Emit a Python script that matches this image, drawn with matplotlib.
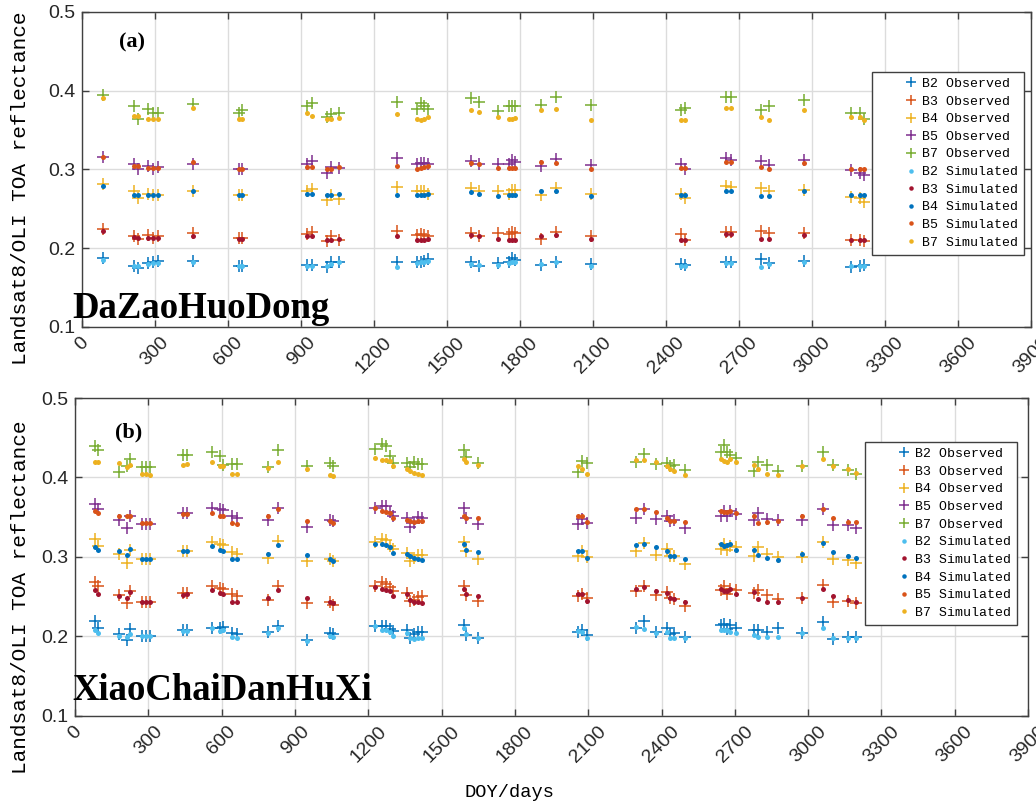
import matplotlib
matplotlib.use('Agg')
import matplotlib.pyplot as plt
from matplotlib.legend_handler import HandlerLine2D

# (a) DaZaoHuoDong
a_doy = [87, 213, 230, 270, 291, 311, 454, 647, 659, 925, 945, 1007, 1023, 1056, 1294, 1376, 1392, 1404, 1421,
         1597, 1633, 1711, 1756, 1768, 1780, 1887, 1948, 2092, 2460, 2476, 2648, 2665, 2792, 2825, 2968, 3160, 3196, 3213]
a_b2_obs = [0.187, 0.178, 0.175, 0.181, 0.182, 0.184, 0.184, 0.178, 0.178, 0.179, 0.179, 0.176, 0.183, 0.183, 0.183, 0.183, 0.183, 0.184, 0.186,
            0.182, 0.178, 0.181, 0.183, 0.187, 0.185, 0.179, 0.182, 0.180, 0.180, 0.179, 0.183, 0.183, 0.186, 0.181, 0.184, 0.176, 0.178, 0.179]
a_b3_obs = [0.224, 0.216, 0.212, 0.217, 0.213, 0.216, 0.219, 0.213, 0.213, 0.218, 0.220, 0.209, 0.215, 0.211, 0.222, 0.217, 0.218, 0.217, 0.215,
            0.219, 0.216, 0.219, 0.218, 0.220, 0.219, 0.212, 0.220, 0.216, 0.218, 0.211, 0.221, 0.221, 0.222, 0.219, 0.219, 0.211, 0.211, 0.209]
a_b4_obs = [0.281, 0.272, 0.264, 0.269, 0.268, 0.268, 0.272, 0.267, 0.267, 0.273, 0.275, 0.261, 0.267, 0.263, 0.278, 0.273, 0.272, 0.272, 0.269,
            0.277, 0.273, 0.272, 0.269, 0.274, 0.274, 0.267, 0.277, 0.269, 0.269, 0.264, 0.279, 0.278, 0.276, 0.272, 0.274, 0.265, 0.264, 0.259]
a_b5_obs = [0.316, 0.307, 0.301, 0.304, 0.300, 0.303, 0.307, 0.301, 0.301, 0.307, 0.311, 0.296, 0.303, 0.302, 0.314, 0.307, 0.308, 0.308, 0.307,
            0.311, 0.307, 0.307, 0.307, 0.312, 0.310, 0.304, 0.313, 0.305, 0.307, 0.301, 0.314, 0.312, 0.311, 0.306, 0.312, 0.299, 0.296, 0.293]
a_b7_obs = [0.395, 0.380, 0.364, 0.377, 0.371, 0.371, 0.383, 0.371, 0.376, 0.381, 0.384, 0.367, 0.370, 0.371, 0.385, 0.377, 0.384, 0.381, 0.377,
            0.391, 0.385, 0.374, 0.380, 0.381, 0.381, 0.382, 0.392, 0.382, 0.375, 0.378, 0.392, 0.392, 0.375, 0.381, 0.388, 0.371, 0.371, 0.364]
a_b2_sim = [0.185, 0.178, 0.177, 0.180, 0.181, 0.181, 0.182, 0.177, 0.177, 0.178, 0.178, 0.177, 0.180, 0.182, 0.176, 0.181, 0.182, 0.182, 0.184,
            0.180, 0.179, 0.179, 0.181, 0.182, 0.182, 0.180, 0.182, 0.178, 0.178, 0.178, 0.181, 0.181, 0.176, 0.180, 0.182, 0.177, 0.177, 0.177]
a_b3_sim = [0.222, 0.214, 0.213, 0.213, 0.213, 0.213, 0.216, 0.212, 0.212, 0.215, 0.215, 0.211, 0.211, 0.212, 0.215, 0.211, 0.211, 0.211, 0.212,
            0.217, 0.216, 0.212, 0.211, 0.211, 0.211, 0.216, 0.217, 0.212, 0.211, 0.211, 0.218, 0.218, 0.212, 0.212, 0.217, 0.211, 0.211, 0.211]
a_b4_sim = [0.279, 0.267, 0.267, 0.267, 0.267, 0.267, 0.272, 0.267, 0.267, 0.269, 0.269, 0.267, 0.267, 0.269, 0.268, 0.267, 0.267, 0.267, 0.269,
            0.271, 0.269, 0.266, 0.267, 0.267, 0.267, 0.272, 0.272, 0.266, 0.267, 0.267, 0.272, 0.272, 0.266, 0.266, 0.272, 0.267, 0.267, 0.267]
a_b5_sim = [0.316, 0.304, 0.304, 0.302, 0.302, 0.302, 0.309, 0.301, 0.301, 0.303, 0.303, 0.301, 0.301, 0.303, 0.304, 0.301, 0.302, 0.303, 0.304,
            0.308, 0.307, 0.302, 0.302, 0.302, 0.302, 0.309, 0.308, 0.301, 0.302, 0.302, 0.310, 0.309, 0.303, 0.301, 0.308, 0.301, 0.301, 0.301]
a_b7_sim = [0.391, 0.368, 0.368, 0.364, 0.364, 0.364, 0.378, 0.364, 0.364, 0.371, 0.368, 0.364, 0.364, 0.365, 0.370, 0.364, 0.363, 0.364, 0.366,
            0.376, 0.373, 0.366, 0.364, 0.364, 0.365, 0.376, 0.377, 0.363, 0.363, 0.363, 0.378, 0.378, 0.366, 0.363, 0.375, 0.366, 0.366, 0.363]

# (b) XiaoChaiDanHuXi
b_doy = [80, 95, 181, 212, 225, 274, 291, 307, 442, 457, 560, 593, 606, 643, 663, 790, 831, 949, 1044, 1056,
         1228, 1257, 1273, 1289, 1302, 1359, 1371, 1387, 1404, 1420, 1592, 1600, 1650, 2059, 2075, 2096, 2296, 2329,
         2378, 2424, 2435, 2451, 2496, 2644, 2656, 2668, 2681, 2705, 2779, 2795, 2832, 2877, 2975, 3061, 3102, 3163, 3196]
b_b2_obs = [0.220, 0.211, 0.203, 0.196, 0.209, 0.200, 0.200, 0.200, 0.208, 0.208, 0.211, 0.211, 0.212, 0.204, 0.203, 0.206, 0.213, 0.196, 0.204, 0.203,
            0.213, 0.213, 0.213, 0.210, 0.207, 0.208, 0.198, 0.203, 0.206, 0.206, 0.215, 0.202, 0.198, 0.206, 0.208, 0.202, 0.211, 0.220,
            0.206, 0.211, 0.203, 0.204, 0.199, 0.215, 0.216, 0.209, 0.215, 0.211, 0.208, 0.208, 0.206, 0.211, 0.205, 0.218, 0.197, 0.199, 0.199]
b_b3_obs = [0.268, 0.263, 0.252, 0.242, 0.257, 0.244, 0.244, 0.244, 0.255, 0.255, 0.263, 0.261, 0.260, 0.253, 0.251, 0.246, 0.264, 0.242, 0.244, 0.240,
            0.264, 0.268, 0.266, 0.262, 0.257, 0.255, 0.245, 0.246, 0.250, 0.251, 0.264, 0.252, 0.245, 0.251, 0.253, 0.248, 0.257, 0.264,
            0.252, 0.256, 0.248, 0.247, 0.238, 0.259, 0.263, 0.254, 0.260, 0.259, 0.255, 0.259, 0.252, 0.247, 0.248, 0.265, 0.243, 0.245, 0.242]
b_b4_obs = [0.323, 0.314, 0.304, 0.293, 0.309, 0.297, 0.297, 0.297, 0.308, 0.308, 0.319, 0.316, 0.315, 0.306, 0.304, 0.299, 0.320, 0.295, 0.298, 0.295,
            0.319, 0.323, 0.321, 0.314, 0.310, 0.305, 0.295, 0.299, 0.303, 0.303, 0.319, 0.307, 0.298, 0.301, 0.307, 0.300, 0.307, 0.318,
            0.303, 0.310, 0.301, 0.301, 0.291, 0.310, 0.316, 0.309, 0.314, 0.313, 0.301, 0.312, 0.304, 0.300, 0.300, 0.319, 0.297, 0.296, 0.292]
b_b5_obs = [0.367, 0.360, 0.347, 0.337, 0.352, 0.342, 0.342, 0.342, 0.355, 0.355, 0.361, 0.360, 0.359, 0.351, 0.349, 0.347, 0.362, 0.338, 0.347, 0.345,
            0.361, 0.364, 0.364, 0.356, 0.352, 0.349, 0.338, 0.343, 0.350, 0.349, 0.361, 0.349, 0.341, 0.342, 0.348, 0.343, 0.349, 0.360,
            0.348, 0.352, 0.345, 0.347, 0.337, 0.352, 0.358, 0.351, 0.358, 0.354, 0.347, 0.355, 0.348, 0.347, 0.346, 0.360, 0.340, 0.340, 0.337]
b_b7_obs = [0.439, 0.434, 0.407, 0.415, 0.423, 0.413, 0.413, 0.413, 0.428, 0.428, 0.432, 0.427, 0.416, 0.417, 0.417, 0.413, 0.434, 0.414, 0.418, 0.414,
            0.436, 0.442, 0.440, 0.427, 0.418, 0.418, 0.413, 0.420, 0.417, 0.417, 0.435, 0.426, 0.418, 0.407, 0.421, 0.418, 0.419, 0.429,
            0.417, 0.418, 0.415, 0.416, 0.409, 0.432, 0.441, 0.432, 0.428, 0.424, 0.408, 0.419, 0.416, 0.408, 0.415, 0.432, 0.416, 0.409, 0.404]
b_b2_sim = [0.208, 0.205, 0.201, 0.199, 0.203, 0.200, 0.200, 0.200, 0.207, 0.207, 0.211, 0.207, 0.208, 0.199, 0.198, 0.205, 0.211, 0.194, 0.200, 0.199,
            0.213, 0.208, 0.208, 0.206, 0.200, 0.204, 0.198, 0.197, 0.198, 0.198, 0.211, 0.203, 0.198, 0.207, 0.206, 0.198, 0.212, 0.210,
            0.205, 0.206, 0.198, 0.198, 0.198, 0.208, 0.208, 0.208, 0.206, 0.205, 0.202, 0.199, 0.199, 0.199, 0.205, 0.211, 0.198, 0.198, 0.198]
b_b3_sim = [0.258, 0.254, 0.251, 0.248, 0.256, 0.243, 0.243, 0.243, 0.252, 0.253, 0.258, 0.255, 0.254, 0.244, 0.243, 0.248, 0.259, 0.248, 0.243, 0.242,
            0.262, 0.260, 0.259, 0.257, 0.251, 0.254, 0.246, 0.244, 0.243, 0.242, 0.260, 0.253, 0.251, 0.253, 0.253, 0.245, 0.260, 0.262,
            0.257, 0.255, 0.248, 0.247, 0.243, 0.260, 0.257, 0.257, 0.260, 0.254, 0.256, 0.247, 0.244, 0.243, 0.249, 0.260, 0.251, 0.246, 0.244]
b_b4_sim = [0.313, 0.309, 0.307, 0.303, 0.310, 0.298, 0.298, 0.297, 0.307, 0.307, 0.314, 0.309, 0.307, 0.298, 0.297, 0.304, 0.315, 0.303, 0.297, 0.295,
            0.316, 0.316, 0.315, 0.312, 0.305, 0.304, 0.301, 0.299, 0.298, 0.296, 0.316, 0.309, 0.306, 0.308, 0.307, 0.299, 0.315, 0.316,
            0.313, 0.307, 0.301, 0.301, 0.297, 0.316, 0.314, 0.315, 0.316, 0.309, 0.309, 0.302, 0.299, 0.296, 0.304, 0.317, 0.306, 0.301, 0.299]
b_b5_sim = [0.358, 0.355, 0.352, 0.351, 0.352, 0.343, 0.343, 0.343, 0.354, 0.354, 0.355, 0.352, 0.352, 0.343, 0.342, 0.352, 0.360, 0.345, 0.345, 0.343,
            0.361, 0.358, 0.357, 0.355, 0.349, 0.347, 0.345, 0.344, 0.345, 0.345, 0.352, 0.349, 0.349, 0.352, 0.351, 0.344, 0.360, 0.360,
            0.356, 0.349, 0.345, 0.345, 0.344, 0.358, 0.356, 0.356, 0.358, 0.355, 0.352, 0.343, 0.344, 0.345, 0.352, 0.360, 0.349, 0.344, 0.344]
b_b7_sim = [0.420, 0.420, 0.418, 0.413, 0.416, 0.405, 0.404, 0.403, 0.416, 0.417, 0.419, 0.415, 0.415, 0.405, 0.404, 0.412, 0.420, 0.411, 0.403, 0.402,
            0.424, 0.422, 0.422, 0.421, 0.415, 0.411, 0.408, 0.406, 0.404, 0.403, 0.423, 0.419, 0.416, 0.415, 0.411, 0.405, 0.422, 0.422,
            0.419, 0.415, 0.411, 0.408, 0.403, 0.423, 0.421, 0.420, 0.423, 0.420, 0.416, 0.411, 0.405, 0.403, 0.415, 0.423, 0.414, 0.411, 0.406]

bands = ['B2', 'B3', 'B4', 'B5', 'B7']
obs_colors = ['#0072BD', '#D95319', '#EDB120', '#7E2F8E', '#77AC30']
sim_colors = ['#4DBEEE', '#A2142F', '#0072BD', '#D95319', '#EDB120']
xticks = list(range(0, 3900 + 1, 300))
yticks = [0.1, 0.2, 0.3, 0.4, 0.5]

mono = 'Liberation Mono'
sans = 'Liberation Sans'
serif = 'Liberation Serif'


def draw_panel(ax, doy, obs, sim, tag, site, tag_xy, site_xy, leg_anchor, ylab_xy):
    for i in range(5):
        ax.plot(doy, obs[i], linestyle='none', marker='+', markersize=8, mew=1.1,
                color=obs_colors[i], label=bands[i] + ' Observed', zorder=3)
    for i in range(5):
        ax.plot(doy, sim[i], linestyle='none', marker='o', markersize=3.6, mew=0,
                color=sim_colors[i], label=bands[i] + ' Simulated', zorder=4)
    ax.set_xlim(0, 3900)
    ax.set_ylim(0.1, 0.5)
    ax.set_xticks(xticks)
    ax.set_yticks(yticks)
    ax.set_xticklabels([str(t) for t in xticks], rotation=45, ha='center', fontfamily=sans, fontsize=14, color='#262626')
    ax.set_yticklabels([f'{t:.1f}' for t in yticks], fontfamily=sans, fontsize=14, color='#262626')
    ax.tick_params(direction='in', top=True, right=True, length=5, width=1, color='#404040', pad=5)
    ax.grid(True, color='#dcdcdc', linewidth=1)
    ax.set_axisbelow(True)
    for s in ax.spines.values():
        s.set_color('#404040')
        s.set_linewidth(1)
    ax.set_ylabel('Landsat8/OLI TOA reflectance', fontfamily=mono, fontsize=15.2)
    ax.yaxis.set_label_coords(ylab_xy[0], ylab_xy[1])
    ax.text(tag_xy[0], tag_xy[1], tag, transform=ax.transAxes, fontfamily=serif,
            fontweight='bold', fontsize=16)
    ax.text(site_xy[0], site_xy[1], site, transform=ax.transAxes, fontfamily=serif,
            fontweight='bold', fontsize=26.5, zorder=5)
    # markers sit at the right end of the handle box, close to the text
    hmap = {}
    for ln in ax.get_lines():
        hmap[ln] = HandlerLine2D(numpoints=1, xpad=2.16)
    leg = ax.legend(loc='upper right', bbox_to_anchor=leg_anchor, prop={'family': mono, 'size': 9.5},
                    frameon=True, fancybox=False, edgecolor='#404040', framealpha=1,
                    handlelength=2.9, handletextpad=0.46, borderpad=0.45, labelspacing=0.41,
                    borderaxespad=0, markerscale=0.9, handler_map=hmap)
    leg.get_frame().set_linewidth(1)


fig = plt.figure(figsize=(10.36, 8.06), dpi=100)
ax1 = fig.add_axes([0.0792, 0.5943, 0.916, 0.391])
ax2 = fig.add_axes([0.0724, 0.1117, 0.920, 0.3945])

draw_panel(ax1, a_doy,
           [a_b2_obs, a_b3_obs, a_b4_obs, a_b5_obs, a_b7_obs],
           [a_b2_sim, a_b3_sim, a_b4_sim, a_b5_sim, a_b7_sim],
           '(a)', 'DaZaoHuoDong', (0.039, 0.886), (-0.0105, 0.03), (0.9926, 0.81), (-0.055, 0.441))
draw_panel(ax2, b_doy,
           [b_b2_obs, b_b3_obs, b_b4_obs, b_b5_obs, b_b7_obs],
           [b_b2_sim, b_b3_sim, b_b4_sim, b_b5_sim, b_b7_sim],
           '(b)', 'XiaoChaiDanHuXi', (0.042, 0.877), (-0.003, 0.05), (0.9885, 0.862), (-0.047, 0.374))
ax2.set_xlabel('DOY/days', fontfamily=mono, fontsize=13.5)
ax2.xaxis.set_label_coords(0.456, -0.215)

fig.savefig('out.png', dpi=100)
